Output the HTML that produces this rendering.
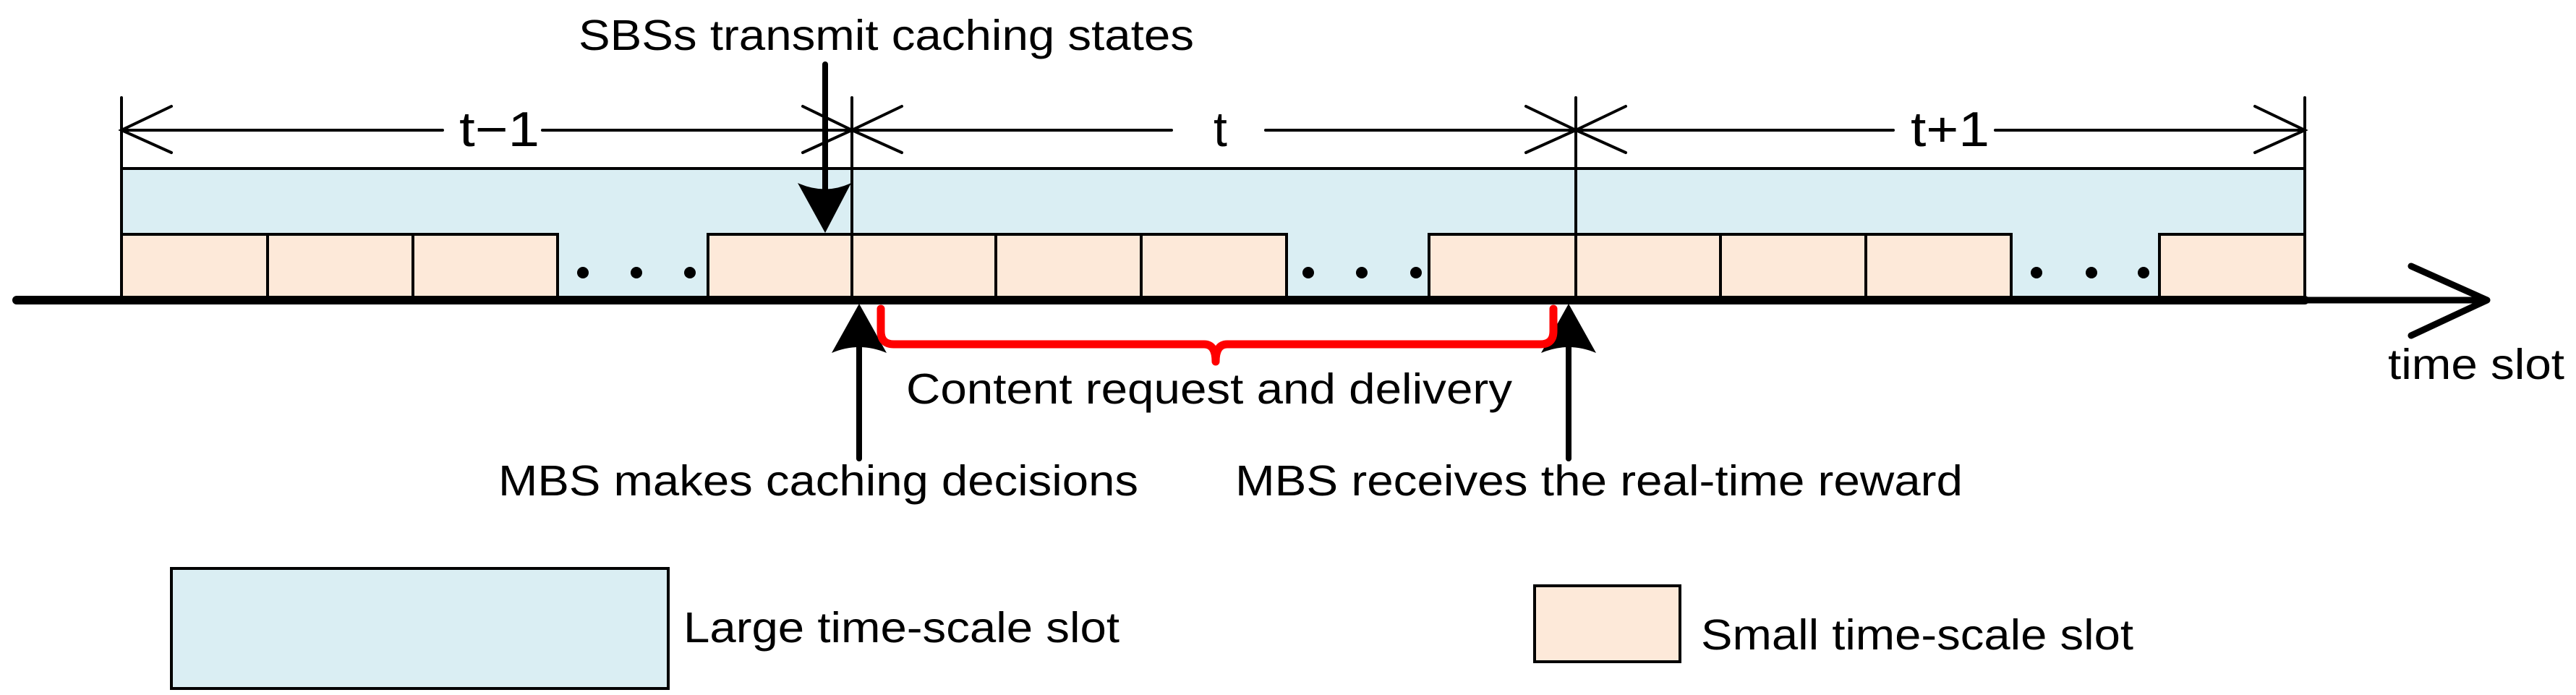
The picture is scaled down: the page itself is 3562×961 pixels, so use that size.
<!DOCTYPE html>
<html><head><meta charset="utf-8"><style>html,body{margin:0;padding:0;background:#fff}svg{display:block}</style></head>
<body>
<svg width="3562" height="961" viewBox="0 0 3562 961" xmlns="http://www.w3.org/2000/svg" font-family="Liberation Sans, Arial, sans-serif">
<rect x="168" y="233" width="3019" height="182" fill="#daeef3" stroke="#000" stroke-width="4"/>
<g fill="#fde9d9" stroke="#000" stroke-width="4">
<rect x="168" y="324" width="202" height="91"/><rect x="370" y="324" width="201" height="91"/><rect x="571" y="324" width="200" height="91"/>
<rect x="979" y="324" width="199" height="91"/>
<rect x="1178" y="324" width="199" height="91"/><rect x="1377" y="324" width="201" height="91"/><rect x="1578" y="324" width="201" height="91"/>
<rect x="1976" y="324" width="203" height="91"/>
<rect x="2179" y="324" width="200" height="91"/><rect x="2379" y="324" width="201" height="91"/><rect x="2580" y="324" width="201" height="91"/>
<rect x="2986" y="324" width="201" height="91"/>
</g>
<g fill="#000">
<circle cx="806" cy="377" r="8"/><circle cx="880" cy="377" r="8"/><circle cx="954" cy="377" r="8"/>
<circle cx="1809" cy="377" r="8"/><circle cx="1883" cy="377" r="8"/><circle cx="1958" cy="377" r="8"/>
<circle cx="2816" cy="377" r="8"/><circle cx="2892" cy="377" r="8"/><circle cx="2964" cy="377" r="8"/>
</g>
<line x1="23" y1="415" x2="3187" y2="415" stroke="#000" stroke-width="12" stroke-linecap="round"/>
<line x1="3187" y1="415" x2="3437" y2="415" stroke="#000" stroke-width="9"/>
<polyline points="3334,368 3439,415 3334,464" fill="none" stroke="#000" stroke-width="9" stroke-linecap="round" stroke-linejoin="round"/>
<g stroke="#000" stroke-width="4" fill="none" stroke-linecap="round">
<line x1="168" y1="135" x2="168" y2="324"/><line x1="1178" y1="135" x2="1178" y2="415"/><line x1="2179" y1="135" x2="2179" y2="415"/><line x1="3187" y1="135" x2="3187" y2="324"/>
<line x1="168" y1="180" x2="612" y2="180"/><line x1="750" y1="180" x2="1620" y2="180"/><line x1="1750" y1="180" x2="2618" y2="180"/><line x1="2759" y1="180" x2="3187" y2="180"/>
<polyline points="237,147 168,180 237,211"/>
<polyline points="1110,147 1178,180 1110,211"/><polyline points="1247,147 1178,180 1247,211"/>
<polyline points="2110,147 2179,180 2110,211"/><polyline points="2248,147 2179,180 2248,211"/>
<polyline points="3118,147 3187,180 3118,211"/>
</g>
<g font-size="68" fill="#000">
<text x="635" y="202" textLength="111" lengthAdjust="spacingAndGlyphs">t−1</text>
<text x="1678" y="202">t</text>
<text x="2642" y="202" textLength="109" lengthAdjust="spacingAndGlyphs">t+1</text>
</g>
<line x1="1141" y1="89" x2="1141" y2="270" stroke="#000" stroke-width="8" stroke-linecap="round"/>
<path d="M1103,253 Q1141,270 1177,253 L1141,322 Z" fill="#000"/>
<line x1="1188" y1="470" x2="1188" y2="634" stroke="#000" stroke-width="8" stroke-linecap="round"/>
<path d="M1150,488 Q1188,472 1226,488 L1188,420 Z" fill="#000"/>
<line x1="2169" y1="470" x2="2169" y2="634" stroke="#000" stroke-width="8" stroke-linecap="round"/>
<path d="M2131,488 Q2169,472 2207,488 L2169,420 Z" fill="#000"/>
<path d="M1218,427 L1218,458 Q1218,476 1236,476 L1665,476 Q1681,476 1681,500 Q1681,476 1697,476 L2130,476 Q2148,476 2148,458 L2148,427" fill="none" stroke="#f00" stroke-width="11" stroke-linecap="round" stroke-linejoin="round"/>
<g font-size="59" fill="#000">
<text x="800" y="69" textLength="851" lengthAdjust="spacingAndGlyphs">SBSs transmit caching states</text>
<text x="1253" y="558" textLength="838" lengthAdjust="spacingAndGlyphs">Content request and delivery</text>
<text x="689" y="685" textLength="885" lengthAdjust="spacingAndGlyphs">MBS makes caching decisions</text>
<text x="1708" y="685" textLength="1006" lengthAdjust="spacingAndGlyphs">MBS receives the real-time reward</text>
<text x="3302" y="524" textLength="244" lengthAdjust="spacingAndGlyphs">time slot</text>
<text x="945" y="888" textLength="603" lengthAdjust="spacingAndGlyphs">Large time-scale slot</text>
<text x="2352" y="898" textLength="598" lengthAdjust="spacingAndGlyphs">Small time-scale slot</text>
</g>
<rect x="237" y="786" width="687" height="166" fill="#daeef3" stroke="#000" stroke-width="4"/>
<rect x="2122" y="810" width="201" height="105" fill="#fde9d9" stroke="#000" stroke-width="4"/>
</svg>
</body></html>
